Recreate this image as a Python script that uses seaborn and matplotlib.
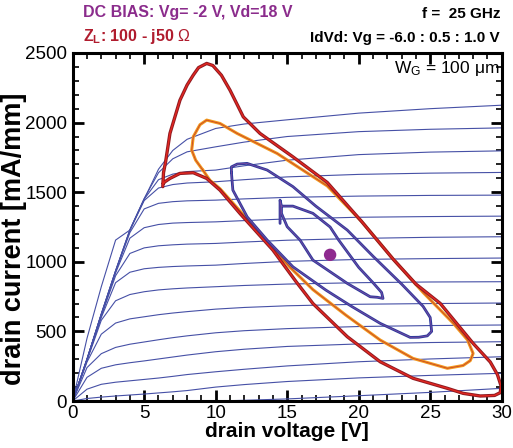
import matplotlib
matplotlib.use("Agg")
import matplotlib.pyplot as plt
from matplotlib.ticker import MultipleLocator
import pandas as pd
import seaborn as sns

# ---- IdVd sweep ----
vd_steps = [0, 1, 2, 3, 4, 5, 6, 7, 8, 10, 12, 15, 20, 25, 30]
vg_steps = [-6.0, -5.5, -5.0, -4.5, -4.0, -3.5, -3.0, -2.5, -2.0, -1.5, -1.0, -0.5, 0.0, 0.5, 1.0]
id_curves = [
    [0, 0, 0, 0, 0, 0, 0, 0, 0, 0, 5, 15, 38, 62, 91],
    [0, 18, 28, 36, 43, 50, 58, 66, 75, 100, 118, 140, 166, 184, 199],
    [0, 85, 120, 135, 145, 155, 165, 177, 190, 210, 228, 252, 282, 302, 318],
    [0, 170, 235, 260, 275, 288, 302, 316, 330, 354, 372, 392, 410, 420, 426],
    [0, 240, 340, 385, 408, 424, 440, 455, 468, 490, 505, 520, 535, 542, 546],
    [0, 280, 480, 560, 590, 605, 620, 632, 642, 660, 672, 684, 695, 700, 704],
    [0, 290, 580, 720, 765, 785, 798, 806, 812, 821, 830, 840, 850, 855, 857],
    [0, 295, 600, 850, 925, 950, 960, 966, 970, 976, 988, 1003, 1017, 1023, 1027],
    [0, 300, 610, 900, 1060, 1100, 1115, 1122, 1127, 1132, 1142, 1155, 1168, 1176, 1180],
    [0, 300, 620, 920, 1170, 1245, 1268, 1278, 1282, 1287, 1296, 1308, 1320, 1325, 1328],
    [0, 300, 620, 930, 1210, 1380, 1420, 1432, 1438, 1443, 1452, 1463, 1472, 1477, 1479],
    [0, 300, 625, 935, 1225, 1440, 1530, 1555, 1566, 1575, 1590, 1610, 1628, 1637, 1642],
    [0, 300, 625, 935, 1230, 1450, 1590, 1630, 1648, 1659, 1690, 1730, 1770, 1788, 1797],
    [0, 300, 625, 935, 1230, 1455, 1640, 1740, 1790, 1826, 1860, 1900, 1935, 1952, 1962],
    [0, 450, 821, 1156, 1228, 1450, 1665, 1800, 1880, 1958, 1990, 2020, 2068, 2100, 2125],
]

# ---- load lines, Z_L = 100 - j50 ----
red_v = [6.3, 6.35, 6.5, 6.8, 7.5, 8.0, 8.43, 8.8, 9.37, 9.8, 10.4, 11.0, 11.5, 11.93, 13.1,
         15.4, 17.8, 20.2, 22.4, 24.0, 25.7, 28.0, 29.2, 29.7, 29.95, 29.9, 29.5, 28.5, 27.3,
         26.2, 23.8, 21.5, 19.2, 16.8, 15.6, 14.0, 11.7, 10.3, 9.37, 8.43, 7.5, 6.8, 6.45, 6.34]
red_i = [1540, 1640, 1720, 1922, 2161, 2270, 2341, 2395, 2425, 2410, 2340, 2233, 2130, 2041, 1922,
         1754, 1570, 1290, 1020, 840, 701, 414, 280, 190, 110, 60, 40, 36, 55,
         91, 163, 282, 462, 700, 860, 1084, 1347, 1515, 1599, 1640, 1635, 1599, 1575, 1563]

orange_v = [9.1, 8.6, 8.32, 8.43, 8.9, 9.37, 10.3, 11.5, 14.3, 17.8, 20.2, 22.4, 24.5, 26.6,
            27.6, 28.0, 27.8, 27.3, 26.2, 23.8, 21.5, 19.1, 16.8, 15.2, 14.0, 11.7, 10.3, 9.6, 9.1]
orange_i = [1659, 1730, 1802, 1898, 1985, 2018, 1994, 1922, 1778, 1545, 1290, 1020, 780, 560,
            440, 342, 290, 255, 235, 306, 438, 617, 800, 960, 1100, 1365, 1525, 1585, 1659]

blue_big_v = [11.1, 11.1, 11.5, 12.2, 13.6, 15.4, 17.0, 19.2, 21.0, 23.0, 24.5, 25.0, 25.1,
              24.8, 24.2, 23.6, 21.5, 19.5, 17.7, 15.4, 13.6, 12.2, 11.2, 11.1]
blue_big_i = [1640, 1682, 1702, 1707, 1659, 1540, 1400, 1228, 1040, 840, 680, 600, 500,
              468, 458, 457, 558, 680, 797, 964, 1156, 1323, 1515, 1640]

blue_small_v = [14.5, 14.5, 14.6, 15.4, 16.8, 18.0, 18.6, 20.0, 21.0, 21.6, 21.7, 21.3,
                20.8, 19.2, 16.8, 15.9, 15.0, 14.6, 14.6]
blue_small_i = [1276, 1443, 1400, 1400, 1348, 1250, 1156, 960, 850, 780, 737, 745,
                749, 845, 1012, 1156, 1252, 1348, 1400]

dc_vd = [18.0]
dc_id = [1050]

# ---- style ----
sns.set_theme(style="ticks")
plt.rcParams['font.family'] = ['Liberation Sans', 'DejaVu Sans']
plt.rcParams['mathtext.fontset'] = 'custom'
plt.rcParams['mathtext.rm'] = 'Liberation Sans'
plt.rcParams['mathtext.it'] = 'Liberation Sans:italic'
plt.rcParams['mathtext.bf'] = 'Liberation Sans:bold'
plt.rcParams['text.color'] = 'black'
plt.rcParams['axes.labelcolor'] = 'black'
plt.rcParams['xtick.color'] = 'black'
plt.rcParams['ytick.color'] = 'black'

iv_rows = []
for vg, ids in zip(vg_steps, id_curves):
    for vd, i in zip(vd_steps, ids):
        iv_rows.append({"vg": vg, "vd": vd, "id": i})
iv_df = pd.DataFrame(iv_rows)

fig = plt.figure(figsize=(5.13, 4.48), dpi=100)
ax = fig.add_axes([0.1417, 0.1049, 0.978 - 0.1417, 0.8817 - 0.1049])

sns.lineplot(data=iv_df, x="vd", y="id", units="vg", estimator=None, sort=False,
             color="#4650a6", lw=0.8, ax=ax, legend=False)


def draw_loop(vs, cs, main_color, inner_color, lw_main, lw_inner):
    loop = pd.DataFrame({"vd": vs, "id": cs})
    sns.lineplot(data=loop, x="vd", y="id", sort=False, estimator=None,
                 color=main_color, lw=lw_main, ax=ax, legend=False)
    sns.lineplot(data=loop, x="vd", y="id", sort=False, estimator=None,
                 color=inner_color, lw=lw_inner, ax=ax, legend=False)


draw_loop(orange_v, orange_i, "#f29a1d", "#c9442a", 2.2, 0.6)
draw_loop(red_v, red_i, "#8e1b22", "#e3261f", 2.4, 1.0)
draw_loop(blue_big_v, blue_big_i, "#2d3a9c", "#7b4aa0", 2.0, 0.6)
draw_loop(blue_small_v, blue_small_i, "#2d3a9c", "#7b4aa0", 2.0, 0.6)

sns.scatterplot(x=dc_vd, y=dc_id, color="#8e2a8f", s=80, edgecolor="none", ax=ax, zorder=5)

ax.set_xlim(0, 30)
ax.set_ylim(0, 2500)
ax.xaxis.set_major_locator(MultipleLocator(5))
ax.xaxis.set_minor_locator(MultipleLocator(1))
ax.yaxis.set_major_locator(MultipleLocator(500))
ax.yaxis.set_minor_locator(MultipleLocator(100))
ax.tick_params(which="both", direction="in", top=True, right=True, labelsize=13.5)
ax.tick_params(axis="x", pad=3)
ax.tick_params(axis="y", pad=4)
ax.tick_params(which="major", length=8, width=2)
ax.tick_params(which="minor", length=4, width=1.2)
for s in ax.spines.values():
    s.set_linewidth(2.2)
    s.set_color("black")

ax.set_xlabel("drain voltage [V]", fontsize=15, fontweight="bold", labelpad=0)
ax.set_ylabel("drain current [mA/mm]", fontsize=19.5, fontweight="bold")
ax.yaxis.set_label_coords(-0.107, 0.466)

ax.text(0.995, 0.955, r"W$_\mathrm{G}$ = 100 μm", transform=ax.transAxes,
        ha="right", va="center", fontsize=12.5)

fig.text(83 / 513, 1 - 12 / 448, "DC BIAS: Vg= -2 V, Vd=18 V", color="#8b2c8c",
         fontsize=11.5, fontweight="bold", ha="left", va="center")
fig.text(83 / 513, 1 - 37 / 448, r"Z$_\mathbf{L}$: 100 - j50 $\Omega$", color="#b01c2e",
         fontsize=11.5, fontweight="bold", ha="left", va="center")
fig.text(500 / 513, 1 - 14 / 448, "f =  25 GHz", color="black",
         fontsize=11, fontweight="bold", ha="right", va="center")
fig.text(500 / 513, 1 - 38 / 448, "IdVd: Vg = -6.0 : 0.5 : 1.0 V", color="black",
         fontsize=11, fontweight="bold", ha="right", va="center")

fig.savefig("out.png", dpi=100)
